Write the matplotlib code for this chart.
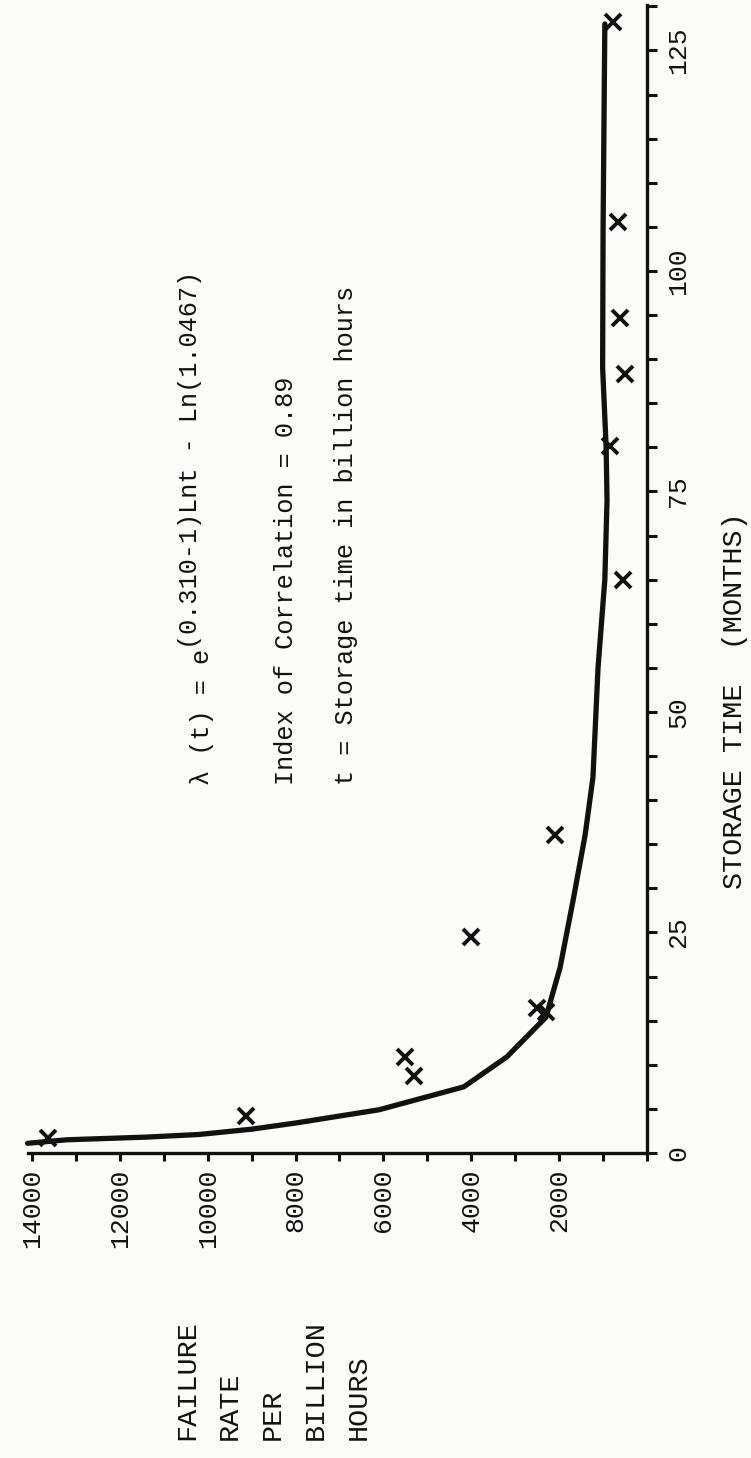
import matplotlib
matplotlib.use("Agg")
import matplotlib.pyplot as plt
from matplotlib.ticker import MultipleLocator, FixedLocator

# ---------------- data ----------------
# measured points: storage time (months), failure rate per billion hours
point_months = [1.7, 4.2, 8.7, 10.9, 16.0, 16.4, 24.5, 36.0, 65.0, 80.2, 88.3, 94.7, 105.5, 128.2]
point_rates  = [13640, 9130, 5300, 5500, 2300, 2500, 4000, 2100, 550, 842, 500, 615, 660, 774]

# hand-drawn fitted curve, read along its length
curve_months = [1.1, 1.5, 1.8, 2.1, 2.7, 3.4, 4.9, 7.5, 10.9, 15.4, 21.0, 28.7, 36.0, 42.6,
                55.0, 65.0, 74.0, 80.0, 89.0, 104.5, 128.0]
curve_rates  = [14100, 13200, 11400, 10200, 9000, 8000, 6100, 4170, 3190, 2300, 1980, 1680, 1410,
                1230, 1115, 960, 910, 930, 1010, 1000, 960]

rate_ticks_labeled = [14000, 12000, 10000, 8000, 6000, 4000, 2000]
month_ticks_labeled = [0, 25, 50, 75, 100, 125]

x_label = "STORAGE TIME  (MONTHS)"
y_label_lines = ["FAILURE", "RATE", "PER", "BILLION", "HOURS"]
eq_base = "\u03bb (t) = e"
eq_exp = "(0.310-1)Lnt - Ln(1.0467)"
corr_text = "Index of Correlation = 0.89"
t_text = "t = Storage time in billion hours"

# ---------------- figure ----------------
W, H, DPI = 751, 1458, 100
MONO = ["Liberation Mono", "DejaVu Sans Mono"]
plt.rcParams["font.family"] = MONO

fig = plt.figure(figsize=(W / DPI, H / DPI), dpi=DPI)
fig.patch.set_facecolor("#fbfbfa")

def fx(px):
    return px / W

def fy(py):
    return (H - py) / H

ax_left, ax_right = 27.6, 647.0
ax_bottom, ax_top = 1153.0, 5.0
ax = fig.add_axes([fx(ax_left), fy(ax_bottom), fx(ax_right - ax_left), (ax_bottom - ax_top) / H])
ax.set_facecolor("none")
ax.set_xlim(14100, 0)
ax.set_ylim(0, 130.15)

ink = "#111111"
ax.plot(curve_rates, curve_months, color=ink, lw=3.8, solid_capstyle="round",
        solid_joinstyle="round", clip_on=False, zorder=3)
ax.plot(point_rates, point_months, linestyle="none", marker="x", markersize=12,
        markeredgewidth=2.8, color=ink, clip_on=False, zorder=4)

for s in ["top", "left"]:
    ax.spines[s].set_visible(False)
for s in ["bottom", "right"]:
    ax.spines[s].set_linewidth(2.4)
    ax.spines[s].set_color(ink)

ax.yaxis.tick_right()
ax.xaxis.set_major_locator(FixedLocator(rate_ticks_labeled))
ax.xaxis.set_minor_locator(MultipleLocator(1000))
ax.yaxis.set_major_locator(FixedLocator(month_ticks_labeled))
ax.yaxis.set_minor_locator(MultipleLocator(5))

ax.tick_params(axis="x", which="both", direction="out", length=6, width=2.2, color=ink,
               labelsize=19, labelrotation=90, pad=5, labelcolor=ink)
ax.tick_params(axis="y", which="both", direction="out", length=7.5, width=2.2, color=ink,
               labelsize=19, labelrotation=90, pad=6.5, labelcolor=ink,
               right=True, left=False, labelright=True, labelleft=False)
ax.set_xticklabels([str(v) for v in rate_ticks_labeled])
ax.set_yticklabels([str(v) for v in month_ticks_labeled])
for lab in ax.get_yticklabels():
    lab.set_verticalalignment("center")

# axis title (storage time), rotated like the page
fig.text(fx(735), fy(701), x_label, rotation=90, ha="center", va="center",
         fontsize=20.5, color=ink)

# failure-rate title, five stacked words
for i, word in enumerate(y_label_lines):
    fig.text(fx(187 + 43 * i), fy(1440), word, rotation=90, ha="center", va="bottom",
             fontsize=20.5, color=ink)

# annotations
ann_bottom = 785
ann_size = 18.2
base = fig.text(fx(202), fy(ann_bottom), eq_base, rotation=90, ha="center", va="bottom",
                fontsize=ann_size, color=ink)
ax.annotate(eq_exp, xy=(0.5, 1.0), xycoords=base, xytext=(-12, 0), textcoords="offset pixels",
            rotation=90, ha="center", va="bottom", fontsize=ann_size, color=ink,
            annotation_clip=False)
fig.text(fx(286), fy(ann_bottom), corr_text, rotation=90, ha="center", va="bottom",
         fontsize=ann_size, color=ink)
fig.text(fx(346), fy(ann_bottom), t_text, rotation=90, ha="center", va="bottom",
         fontsize=ann_size, color=ink)

fig.savefig("out.png", dpi=DPI, facecolor=fig.get_facecolor())
